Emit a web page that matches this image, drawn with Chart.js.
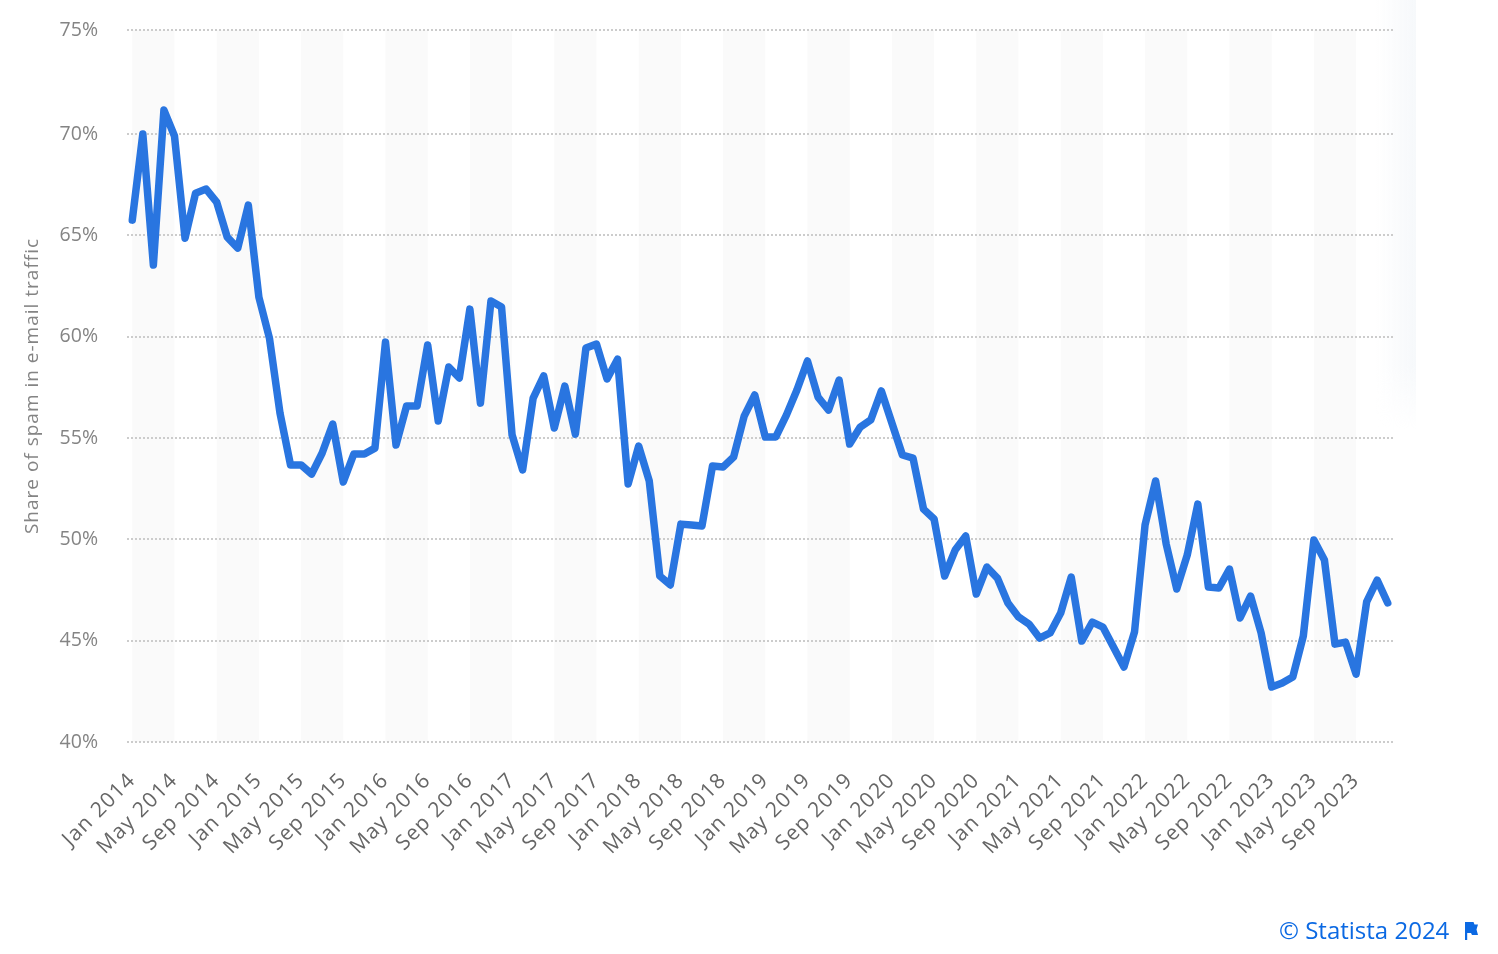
<!DOCTYPE html>
<html>
<head>
<meta charset="utf-8">
<title>Share of spam in e-mail traffic</title>
<script src="https://cdn.jsdelivr.net/npm/chart.js@4/dist/chart.umd.js"></script>
<style>
  html, body { margin: 0; background: #fff; }
  #wrap { position: relative; width: 1498px; height: 954px; overflow: hidden; font-family: "Open Sans", sans-serif; }
  #shade {
    position: absolute; left: 1376px; top: 0; width: 40px; height: 430px;
    background: linear-gradient(to right, rgba(240,244,248,0), rgba(240,244,248,.6));
    -webkit-mask-image: linear-gradient(to bottom, #000 85%, transparent);
  }
  #spamChart { position: absolute; left: 0; top: 0; }
  #credit { position: absolute; left: 1279px; top: 914px; font-size: 24px; line-height: 32px; color: #0b69e3; white-space: nowrap; }
  #flag { position: absolute; left: 1465px; top: 922px; }
</style>
</head>
<body>
<div id="wrap">
  <div id="shade"></div>
  <canvas id="spamChart" width="1498" height="954"></canvas>
  <div id="credit">© Statista 2024</div>
  <svg id="flag" width="14" height="18" viewBox="0 0 14 18"><path d="M0 0h2.200v18H0z M2 0h6.500l1 2.500h3.500l-1.500 5 1.500 5.500H7l-1-2H2z" fill="#0b69e3"/></svg>
</div>
<script>
const months = ["Jan", "Feb", "Mar", "Apr", "May", "Jun", "Jul", "Aug", "Sep", "Oct", "Nov", "Dec"];
const years = [2014, 2015, 2016, 2017, 2018, 2019, 2020, 2021, 2022, 2023];
const categories = years.flatMap((y) => months.map((m) => m + " " + y));

// One value per month
const spamShare = [
  65.75, 70.0, 63.53, 71.18, 69.9, 64.86, 67.08, 67.28, 66.64, 64.91, 64.37, 66.49,
  61.95, 59.93, 56.23, 53.67, 53.67, 53.22, 54.26, 55.69, 52.83, 54.21, 54.21, 54.5,
  59.73, 54.65, 56.58, 56.58, 59.59, 55.84, 58.5, 57.96, 61.36, 56.72, 61.76, 61.46,
  55.15, 53.42, 56.97, 58.06, 55.49, 57.56, 55.19, 59.44, 59.63, 57.91, 58.89, 52.73,
  54.6, 52.88, 48.19, 47.75, 50.75, 50.71, 50.66, 53.62, 53.57, 54.06, 56.08, 57.12,
  55.05, 55.05, 56.13, 57.37, 58.8, 57.02, 56.38, 57.86, 54.7, 55.54, 55.89, 57.32,
  55.74, 54.16, 54.01, 51.49, 51.0, 48.19, 49.47, 50.16, 47.3, 48.63, 48.09, 46.86,
  46.17, 45.82, 45.13, 45.38, 46.36, 48.14, 44.98, 45.92, 45.67, 44.69, 43.7, 45.43,
  50.71, 52.88, 49.77, 47.55, 49.23, 51.74, 47.65, 47.6, 48.53, 46.12, 47.2, 45.38,
  42.71, 42.91, 43.21, 45.23, 49.97, 48.98, 44.83, 44.93, 43.35, 46.91, 47.99, 46.86,
];

// the top gridline sits a bit above a true 75 in the picture
const yTicks = [40, 45, 50, 55, 60, 65, 70, 75.13];

Chart.defaults.font.family = '"Open Sans", sans-serif';

const bandsPlugin = {
  id: "bands",
  beforeDraw(chart) {
    const ctx = chart.ctx;
    const area = chart.chartArea;
    const x = chart.scales.x;
    ctx.save();
    ctx.fillStyle = "#fafafa";
    for (let i = 0; i < categories.length; i += 8) {
      const from = x.getPixelForValue(i);
      const to = x.getPixelForValue(i + 4);
      ctx.fillRect(from, area.top, to - from, area.bottom - area.top);
    }
    ctx.restore();
  },
};

// Chart.js has no letter spacing option, so set it on the context around the text calls
function spaced(chart, scale, method, spacing) {
  const original = scale[method];
  scale[method] = function (arg) {
    chart.ctx.letterSpacing = spacing;
    original.call(this, arg);
    chart.ctx.letterSpacing = "0px";
  };
}

const spacingPlugin = {
  id: "spacing",
  afterLayout(chart) {
    if (chart.$spaced) return;
    chart.$spaced = true;
    spaced(chart, chart.scales.x, "drawLabels", "1.2px");
    spaced(chart, chart.scales.y, "drawTitle", "1px");
  },
};

new Chart(document.getElementById("spamChart").getContext("2d"), {
  type: "line",
  plugins: [bandsPlugin, spacingPlugin],
  data: {
    labels: categories,
    datasets: [
      {
        label: "Share of spam",
        data: spamShare,
        borderColor: "#2975e0",
        borderWidth: 7.5,
        borderCapStyle: "round",
        borderJoinStyle: "round",
        pointRadius: 0,
        tension: 0,
      },
    ],
  },
  options: {
    responsive: false,
    animation: false,
    layout: { padding: { top: 30, right: 105, bottom: 0, left: 0 } },
    plugins: { legend: { display: false }, tooltip: { enabled: false } },
    scales: {
      x: {
        offset: true,
        grid: { display: false },
        border: { display: false },
        afterBuildTicks(scale) {
          scale.ticks = scale.ticks.filter((t) => t.value % 4 === 0);
        },
        afterFit(scale) {
          scale.height = 212;
        },
        ticks: {
          autoSkip: false,
          minRotation: 45,
          maxRotation: 45,
          padding: 18,
          color: "#666666",
          font: { size: 21 },
        },
      },
      y: {
        min: 40,
        max: 75.13,
        // invisible tick marks push the labels left; ticks.padding would also push the plot top down
        grid: { color: "#cccccc", lineWidth: 2, drawTicks: true, tickLength: 26, tickColor: "transparent" },
        border: { display: false, dash: [2, 2] },
        afterBuildTicks(scale) {
          scale.ticks = yTicks.map((value) => ({ value }));
        },
        afterFit(scale) {
          scale.width = 127;
        },
        ticks: {
          padding: 3,
          color: "#848484",
          font: { size: 19.5 },
          callback: (v) => Math.round(v) + "%",
        },
        title: {
          display: true,
          text: "Share of spam in e-mail traffic",
          color: "#848484",
          font: { size: 19 },
          padding: { top: 21, bottom: 0 },
        },
      },
    },
  },
});
</script>
</body>
</html>
